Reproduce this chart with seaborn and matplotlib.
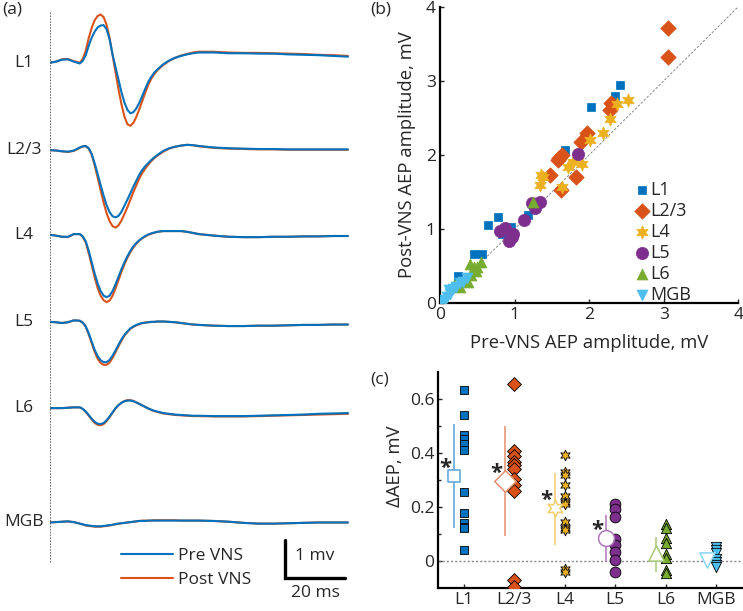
import numpy as np
import pandas as pd
import matplotlib
matplotlib.use("Agg")
import matplotlib.pyplot as plt
from matplotlib.colors import to_rgb
import seaborn as sns

sns.set_style("white")
plt.rcParams['font.family'] = ['Open Sans', 'DejaVu Sans']

# ---------------- data ----------------
layers = ['L1', 'L2/3', 'L4', 'L5', 'L6', 'MGB']
colors = ['#0072BD', '#D95319', '#EDB120', '#7E2F8E', '#77AC30', '#4DBEEE']
markers = ['s', 'D', (6, 1, 0), 'o', '^', 'v']

# (a) average AEP traces, mV, sampled at t_ms
t_ms = [0, 2, 4, 6, 8,
        10, 11, 12, 13, 14, 15, 16, 17, 18, 19, 20, 21, 22, 23,
        24, 25, 26, 27, 28, 29, 30, 31, 32, 33, 34, 35, 36,
        38, 40, 42, 44, 46, 48, 50,
        55, 60, 65, 70, 75, 80, 85, 90, 95, 100]
pre_L1 = [0, 0.03, 0.08, 0.09, 0.03,
          -0.02, 0.05, 0.2, 0.45, 0.66, 0.82, 0.93, 0.98, 0.99, 0.88, 0.62, 0.22, -0.12, -0.45,
          -0.78, -1.05, -1.24, -1.33, -1.3, -1.2, -1.05, -0.87, -0.68, -0.5, -0.37, -0.26, -0.18,
          -0.04, 0.06, 0.13, 0.18, 0.22, 0.25, 0.27,
          0.27, 0.25, 0.25, 0.24, 0.24, 0.22, 0.21, 0.2, 0.18, 0.16]
post_L1 = [0, 0.03, 0.09, 0.1, 0.04,
           0.0, 0.1, 0.32, 0.65, 0.92, 1.12, 1.23, 1.27, 1.2, 1.0, 0.65, 0.2, -0.25, -0.7,
           -1.1, -1.42, -1.62, -1.66, -1.58, -1.42, -1.22, -1.0, -0.78, -0.58, -0.42, -0.3, -0.2,
           -0.06, 0.05, 0.13, 0.19, 0.23, 0.27, 0.29,
           0.29, 0.27, 0.26, 0.26, 0.25, 0.24, 0.23, 0.21, 0.2, 0.18]
pre_L23 = [0, -0.01, -0.03, -0.04, -0.01,
           0.07, 0.1, 0.11, 0.05, -0.1, -0.35, -0.63, -0.92, -1.2, -1.45, -1.63, -1.74, -1.77, -1.73,
           -1.62, -1.46, -1.3, -1.13, -0.96, -0.8, -0.64, -0.52, -0.42, -0.34, -0.26, -0.19, -0.13,
           -0.02, 0.05, 0.09, 0.12, 0.14, 0.13, 0.11,
           0.07, 0.05, 0.04, 0.03, 0.03, 0.02, 0.02, 0.02, 0.02, 0.02]
post_L23 = [0, -0.01, -0.03, -0.05, -0.02,
            0.06, 0.1, 0.1, 0.04, -0.12, -0.4, -0.72, -1.06, -1.38, -1.66, -1.87, -2.0, -2.04, -1.98,
            -1.85, -1.68, -1.5, -1.3, -1.1, -0.92, -0.74, -0.6, -0.48, -0.38, -0.29, -0.21, -0.15,
            -0.04, 0.04, 0.09, 0.12, 0.14, 0.13, 0.1,
            0.06, 0.04, 0.03, 0.02, 0.02, 0.01, 0.01, 0.01, 0.01, 0.01]
pre_L4 = [0, -0.02, -0.05, -0.05, 0.02,
          0.02, -0.04, -0.17, -0.42, -0.72, -1.02, -1.28, -1.48, -1.6, -1.64, -1.6, -1.48, -1.3, -1.1,
          -0.9, -0.72, -0.56, -0.42, -0.3, -0.21, -0.14, -0.08, -0.03, 0.01, 0.04, 0.06, 0.08,
          0.1, 0.1, 0.1, 0.1, 0.08, 0.05, 0.02,
          -0.02, -0.05, -0.06, -0.06, -0.05, -0.05, -0.04, -0.04, -0.03, -0.03]
post_L4 = [0, -0.02, -0.05, -0.06, 0.02,
           0.02, -0.05, -0.2, -0.48, -0.8, -1.12, -1.4, -1.6, -1.72, -1.77, -1.73, -1.6, -1.41, -1.19,
           -0.97, -0.77, -0.6, -0.45, -0.33, -0.23, -0.15, -0.09, -0.04, 0.0, 0.03, 0.06, 0.08,
           0.1, 0.1, 0.1, 0.1, 0.08, 0.05, 0.02,
           -0.02, -0.05, -0.06, -0.06, -0.05, -0.05, -0.04, -0.04, -0.03, -0.03]
pre_L5 = [0, -0.01, -0.03, -0.01, 0.04,
          0.03, -0.02, -0.12, -0.3, -0.52, -0.74, -0.9, -1.01, -1.06, -1.06, -1.0, -0.89, -0.75, -0.6,
          -0.46, -0.34, -0.25, -0.17, -0.12, -0.08, -0.05, -0.03, -0.02, -0.01, 0.0, 0.0, 0.01,
          0.01, 0.0, -0.01, -0.03, -0.05, -0.07, -0.08,
          -0.1, -0.11, -0.11, -0.1, -0.1, -0.09, -0.08, -0.08, -0.07, -0.07]
post_L5 = [0, -0.01, -0.03, -0.01, 0.04,
           0.03, -0.02, -0.13, -0.33, -0.56, -0.79, -0.97, -1.08, -1.13, -1.13, -1.07, -0.95, -0.8, -0.64,
           -0.49, -0.36, -0.27, -0.18, -0.13, -0.09, -0.06, -0.03, -0.02, -0.01, 0.0, 0.0, 0.01,
           0.01, 0.0, -0.01, -0.03, -0.05, -0.07, -0.08,
           -0.1, -0.11, -0.11, -0.1, -0.1, -0.09, -0.08, -0.08, -0.07, -0.07]
pre_L6 = [0, 0.0, 0.0, 0.01, 0.02,
          0.02, -0.02, -0.09, -0.18, -0.28, -0.36, -0.41, -0.42, -0.39, -0.32, -0.22, -0.11, 0.0, 0.08,
          0.14, 0.18, 0.2, 0.2, 0.18, 0.15, 0.11, 0.07, 0.03, -0.01, -0.04, -0.07, -0.09,
          -0.13, -0.15, -0.17, -0.18, -0.19, -0.2, -0.2,
          -0.21, -0.21, -0.21, -0.2, -0.19, -0.18, -0.17, -0.15, -0.14, -0.13]
post_L6 = [0, 0.0, 0.0, 0.01, 0.02,
           0.02, -0.02, -0.1, -0.2, -0.3, -0.39, -0.44, -0.45, -0.42, -0.34, -0.24, -0.12, -0.01, 0.08,
           0.14, 0.19, 0.21, 0.21, 0.19, 0.15, 0.11, 0.07, 0.03, -0.01, -0.05, -0.08, -0.1,
           -0.14, -0.16, -0.18, -0.19, -0.2, -0.21, -0.21,
           -0.22, -0.22, -0.22, -0.21, -0.2, -0.19, -0.18, -0.17, -0.16, -0.15]
pre_MGB = [0, 0.01, 0.02, 0.03, 0.01,
           -0.03, -0.05, -0.07, -0.08, -0.09, -0.1, -0.1, -0.1, -0.09, -0.08, -0.07, -0.06, -0.04, -0.03,
           -0.02, -0.01, 0.0, 0.01, 0.02, 0.03, 0.04, 0.04, 0.04, 0.05, 0.05, 0.05, 0.05,
           0.05, 0.05, 0.05, 0.05, 0.05, 0.05, 0.05,
           0.04, 0.02, -0.01, -0.03, -0.03, -0.02, -0.01, 0.0, 0.0, 0.0]
post_MGB = [0, 0.01, 0.02, 0.03, 0.01,
            -0.03, -0.05, -0.08, -0.09, -0.1, -0.11, -0.11, -0.11, -0.1, -0.09, -0.08, -0.06, -0.05, -0.03,
            -0.02, -0.01, 0.0, 0.01, 0.02, 0.03, 0.04, 0.05, 0.05, 0.05, 0.05, 0.06, 0.06,
            0.06, 0.06, 0.06, 0.05, 0.05, 0.05, 0.05,
            0.04, 0.02, -0.01, -0.03, -0.03, -0.02, -0.01, 0.0, 0.0, 0.0]
pre_traces = [pre_L1, pre_L23, pre_L4, pre_L5, pre_L6, pre_MGB]
post_traces = [post_L1, post_L23, post_L4, post_L5, post_L6, post_MGB]
trace_offsets = [0, -2.3, -4.53, -6.82, -9.09, -12.1]   # vertical stacking, mV

# (b) pre vs post AEP amplitude, mV
pre_amp = {
    'L1':   [2.41, 2.34, 2.03, 1.67, 1.18, 0.78, 0.65, 0.95, 0.83, 0.46, 0.56, 0.24, 0.88],
    'L2/3': [3.06, 3.06, 2.29, 2.28, 1.97, 1.89, 1.58, 1.60, 1.63, 1.47, 1.83, 1.62],
    'L4':   [2.52, 2.38, 2.28, 2.18, 2.01, 1.79, 1.71, 1.91, 1.36, 1.34, 1.64, 1.38],
    'L5':   [1.85, 1.34, 1.24, 1.28, 1.12, 0.80, 0.87, 0.98, 0.92, 0.96],
    'L6':   [1.25, 0.55, 0.50, 0.45, 0.40, 0.42, 0.38, 0.48, 0.19, 0.27],
    'MGB':  [0.02, 0.07, 0.09, 0.12, 0.13, 0.18, 0.22, 0.27, 0.31, 0.36],
}
post_amp = {
    'L1':   [2.94, 2.79, 2.65, 2.07, 1.19, 1.16, 1.06, 1.03, 0.94, 0.67, 0.67, 0.37, 1.0],
    'L2/3': [3.71, 3.32, 2.70, 2.61, 2.29, 2.17, 1.93, 1.96, 2.0, 1.73, 1.71, 1.53],
    'L4':   [2.74, 2.69, 2.49, 2.29, 2.20, 1.90, 1.84, 1.88, 1.73, 1.60, 1.57, 1.70],
    'L5':   [2.01, 1.36, 1.35, 1.28, 1.12, 0.97, 1.01, 0.94, 0.84, 0.90],
    'L6':   [1.37, 0.56, 0.49, 0.49, 0.53, 0.38, 0.29, 0.43, 0.25, 0.22],
    'MGB':  [0.02, 0.05, 0.09, 0.18, 0.13, 0.19, 0.22, 0.28, 0.29, 0.34],
}

# (c) change in AEP amplitude, mV
delta_aep = {
    'L1':   [0.633, 0.541, 0.467, 0.45, 0.434, 0.41, 0.253, 0.175, 0.14, 0.126, 0.12, 0.04],
    'L2/3': [0.653, 0.405, 0.387, 0.366, 0.354, 0.341, 0.304, 0.28, 0.259, -0.071, -0.096],
    'L4':   [0.393, 0.329, 0.317, 0.282, 0.239, 0.218, 0.21, 0.144, 0.12, 0.115, -0.03, -0.04],
    'L5':   [0.209, 0.193, 0.162, 0.082, 0.058, 0.033, 0.002, -0.043],
    'L6':   [0.135, 0.12, 0.085, 0.065, 0.025, 0.01, -0.035, -0.045],
    'MGB':  [0.05, 0.04, 0.03, 0.005, -0.005, -0.015, -0.025],
}
delta_mean = [0.313, 0.294, 0.194, 0.083, 0.03, 0.003]
delta_lo = [0.12, 0.092, 0.058, -0.004, -0.04, -0.022]
delta_hi = [0.505, 0.498, 0.325, 0.169, 0.086, 0.027]
significant = [True, True, True, True, False, False]


def lighten(c, f=0.4):
    r, g, b = to_rgb(c)
    return (r + (1 - r) * f, g + (1 - g) * f, b + (1 - b) * f)


W, H = 743, 611
fig = plt.figure(figsize=(W / 100, H / 100), dpi=100)


def px_axes(x0, y0, x1, y1):
    return fig.add_axes([x0 / W, 1 - y1 / H, (x1 - x0) / W, (y1 - y0) / H])


# ---------------- (a) traces ----------------
ax_a = px_axes(50, 5, 350, 600)
for name, pre, post, off in zip(layers, pre_traces, post_traces, trace_offsets):
    sns.lineplot(x=t_ms, y=np.array(post) + off, color='#D95319', lw=1.5, ax=ax_a,
                 label='Post VNS' if name == 'L1' else None, legend=False)
    sns.lineplot(x=t_ms, y=np.array(pre) + off, color='#0072BD', lw=1.5, ax=ax_a,
                 label='Pre VNS' if name == 'L1' else None, legend=False)
    ax_a.text(-8.7, off, name, ha='center', va='center', fontsize=12.5)
ax_a.set_xlim(0, 100.7)
ax_a.set_ylim(-14.14, 1.52)
ax_a.plot([0, 0], [1.33, -13.17], ls=(0, (2, 1.5)), color='#555555', lw=0.6)
# scale bar: 1 mV, 20 ms
ax_a.plot([78.9, 78.9, 98.9], [-12.56, -13.56, -13.56], color='black', lw=2.4,
          solid_joinstyle='miter')
ax_a.text(82.2, -12.97, '1 mv', ha='left', va='center', fontsize=12.5)
ax_a.text(89, -13.95, '20 ms', ha='center', va='center', fontsize=12.5)
ax_a.axis('off')
h, l = ax_a.get_legend_handles_labels()
order = [l.index('Pre VNS'), l.index('Post VNS')]
ax_a.legend([h[i] for i in order], [l[i] for i in order], loc='upper left',
            bbox_to_anchor=(121 / W, 1 - 548 / H), bbox_transform=fig.transFigure,
            frameon=False, fontsize=12.5, handlelength=3.0, handletextpad=0.3,
            borderpad=0, borderaxespad=0, labelspacing=0.44)
fig.text(2 / W, 1 - 10 / H, '(a)', fontsize=12.5, va='center')

# ---------------- (b) scatter ----------------
ax_b = px_axes(440, 6.7, 738.3, 303.3)
df_b = pd.DataFrame([(lay, x, y) for lay in layers
                     for x, y in zip(pre_amp[lay], post_amp[lay])],
                    columns=['layer', 'pre', 'post'])
sizes_b = {'L1': 36, 'L2/3': 62, 'L4': 90, 'L5': 78, 'L6': 62, 'MGB': 62}
for lay, c, m in zip(layers, colors, markers):
    sub = df_b[df_b.layer == lay]
    sns.scatterplot(data=sub, x='pre', y='post', color=c, marker=m, s=sizes_b[lay],
                    edgecolor=c, linewidth=0.5, ax=ax_b, label=lay, zorder=3)
ax_b.plot([0, 4], [0, 4], ls=(0, (3, 2)), color='#777777', lw=0.6, zorder=1)
ax_b.set_xlim(0, 4)
ax_b.set_ylim(0, 4)
ax_b.set_xticks([0, 1, 2, 3, 4])
ax_b.set_yticks([0, 1, 2, 3, 4])
ax_b.set_xlabel('Pre-VNS AEP amplitude, mV', fontsize=13.3)
ax_b.set_ylabel('Post-VNS AEP amplitude, mV', fontsize=13.3)
ax_b.xaxis.set_label_coords(0.5, -0.105)
ax_b.yaxis.set_label_coords(-0.08, 0.5)
sns.despine(ax=ax_b)
ax_b.legend(loc='upper left', bbox_to_anchor=(0.655, 0.412), frameon=False,
            fontsize=13, handlelength=0.7, handletextpad=0.1, borderpad=0,
            borderaxespad=0, labelspacing=0.16)
fig.text(370 / W, 1 - 10 / H, '(b)', fontsize=12.5, va='center')

# ---------------- (c) delta AEP ----------------
ax_c = px_axes(438.3, 371.7, 741.7, 587.7)
ax_c.axhline(0, ls=(0, (1.5, 1.5)), color='#888888', lw=1, zorder=1)
sizes_c = {'L1': 30, 'L2/3': 50, 'L4': 60, 'L5': 60, 'L6': 55, 'MGB': 55}
sizes_m = {'L1': 80, 'L2/3': 120, 'L4': 150, 'L5': 130, 'L6': 120, 'MGB': 120}
for i, (lay, c, m) in enumerate(zip(layers, colors, markers)):
    pos = i + 1
    vals = delta_aep[lay]
    sns.scatterplot(x=[pos] * len(vals), y=vals, color=c, marker=m, s=sizes_c[lay],
                    edgecolor='black', linewidth=0.6, ax=ax_c, legend=False, zorder=3)
    lc = lighten(c, 0.35)
    ax_c.vlines(pos - 0.19, delta_lo[i], delta_hi[i], color=lc, lw=1.1, zorder=2)
    ax_c.scatter([pos - 0.19], [delta_mean[i]], marker=m, s=sizes_m[lay],
                 facecolor='white', edgecolor=lc, linewidth=1.1, zorder=4)
    if significant[i]:
        ax_c.text(pos - 0.36, delta_mean[i] + 0.03, '*', ha='center', va='center',
                  fontsize=16, fontweight='bold')
ax_c.set_xlim(0.5, 6.5)
ax_c.set_ylim(-0.1, 0.7)
ax_c.set_xticks(range(1, 7))
ax_c.set_xticklabels(layers)
ax_c.set_yticks([0, 0.2, 0.4, 0.6])
ax_c.set_yticklabels(['0', '0.2', '0.4', '0.6'])
ax_c.set_yticks([0.1, 0.3, 0.5], minor=True)
ax_c.set_ylabel('ΔAEP, mV', fontsize=13.3)
ax_c.yaxis.set_label_coords(-0.113, 0.56)
sns.despine(ax=ax_c)
fig.text(370 / W, 1 - 380 / H, '(c)', fontsize=12.5, va='center')

for ax in (ax_b, ax_c):
    for sp in ('left', 'bottom'):
        ax.spines[sp].set_linewidth(1.6)
        ax.spines[sp].set_color('black')
    ax.tick_params(axis='both', which='both', direction='in', length=3, width=1,
                   labelsize=12.5, pad=3, left=True, bottom=True)
    ax.tick_params(which='minor', length=2)

fig.savefig('out.png', dpi=100)
